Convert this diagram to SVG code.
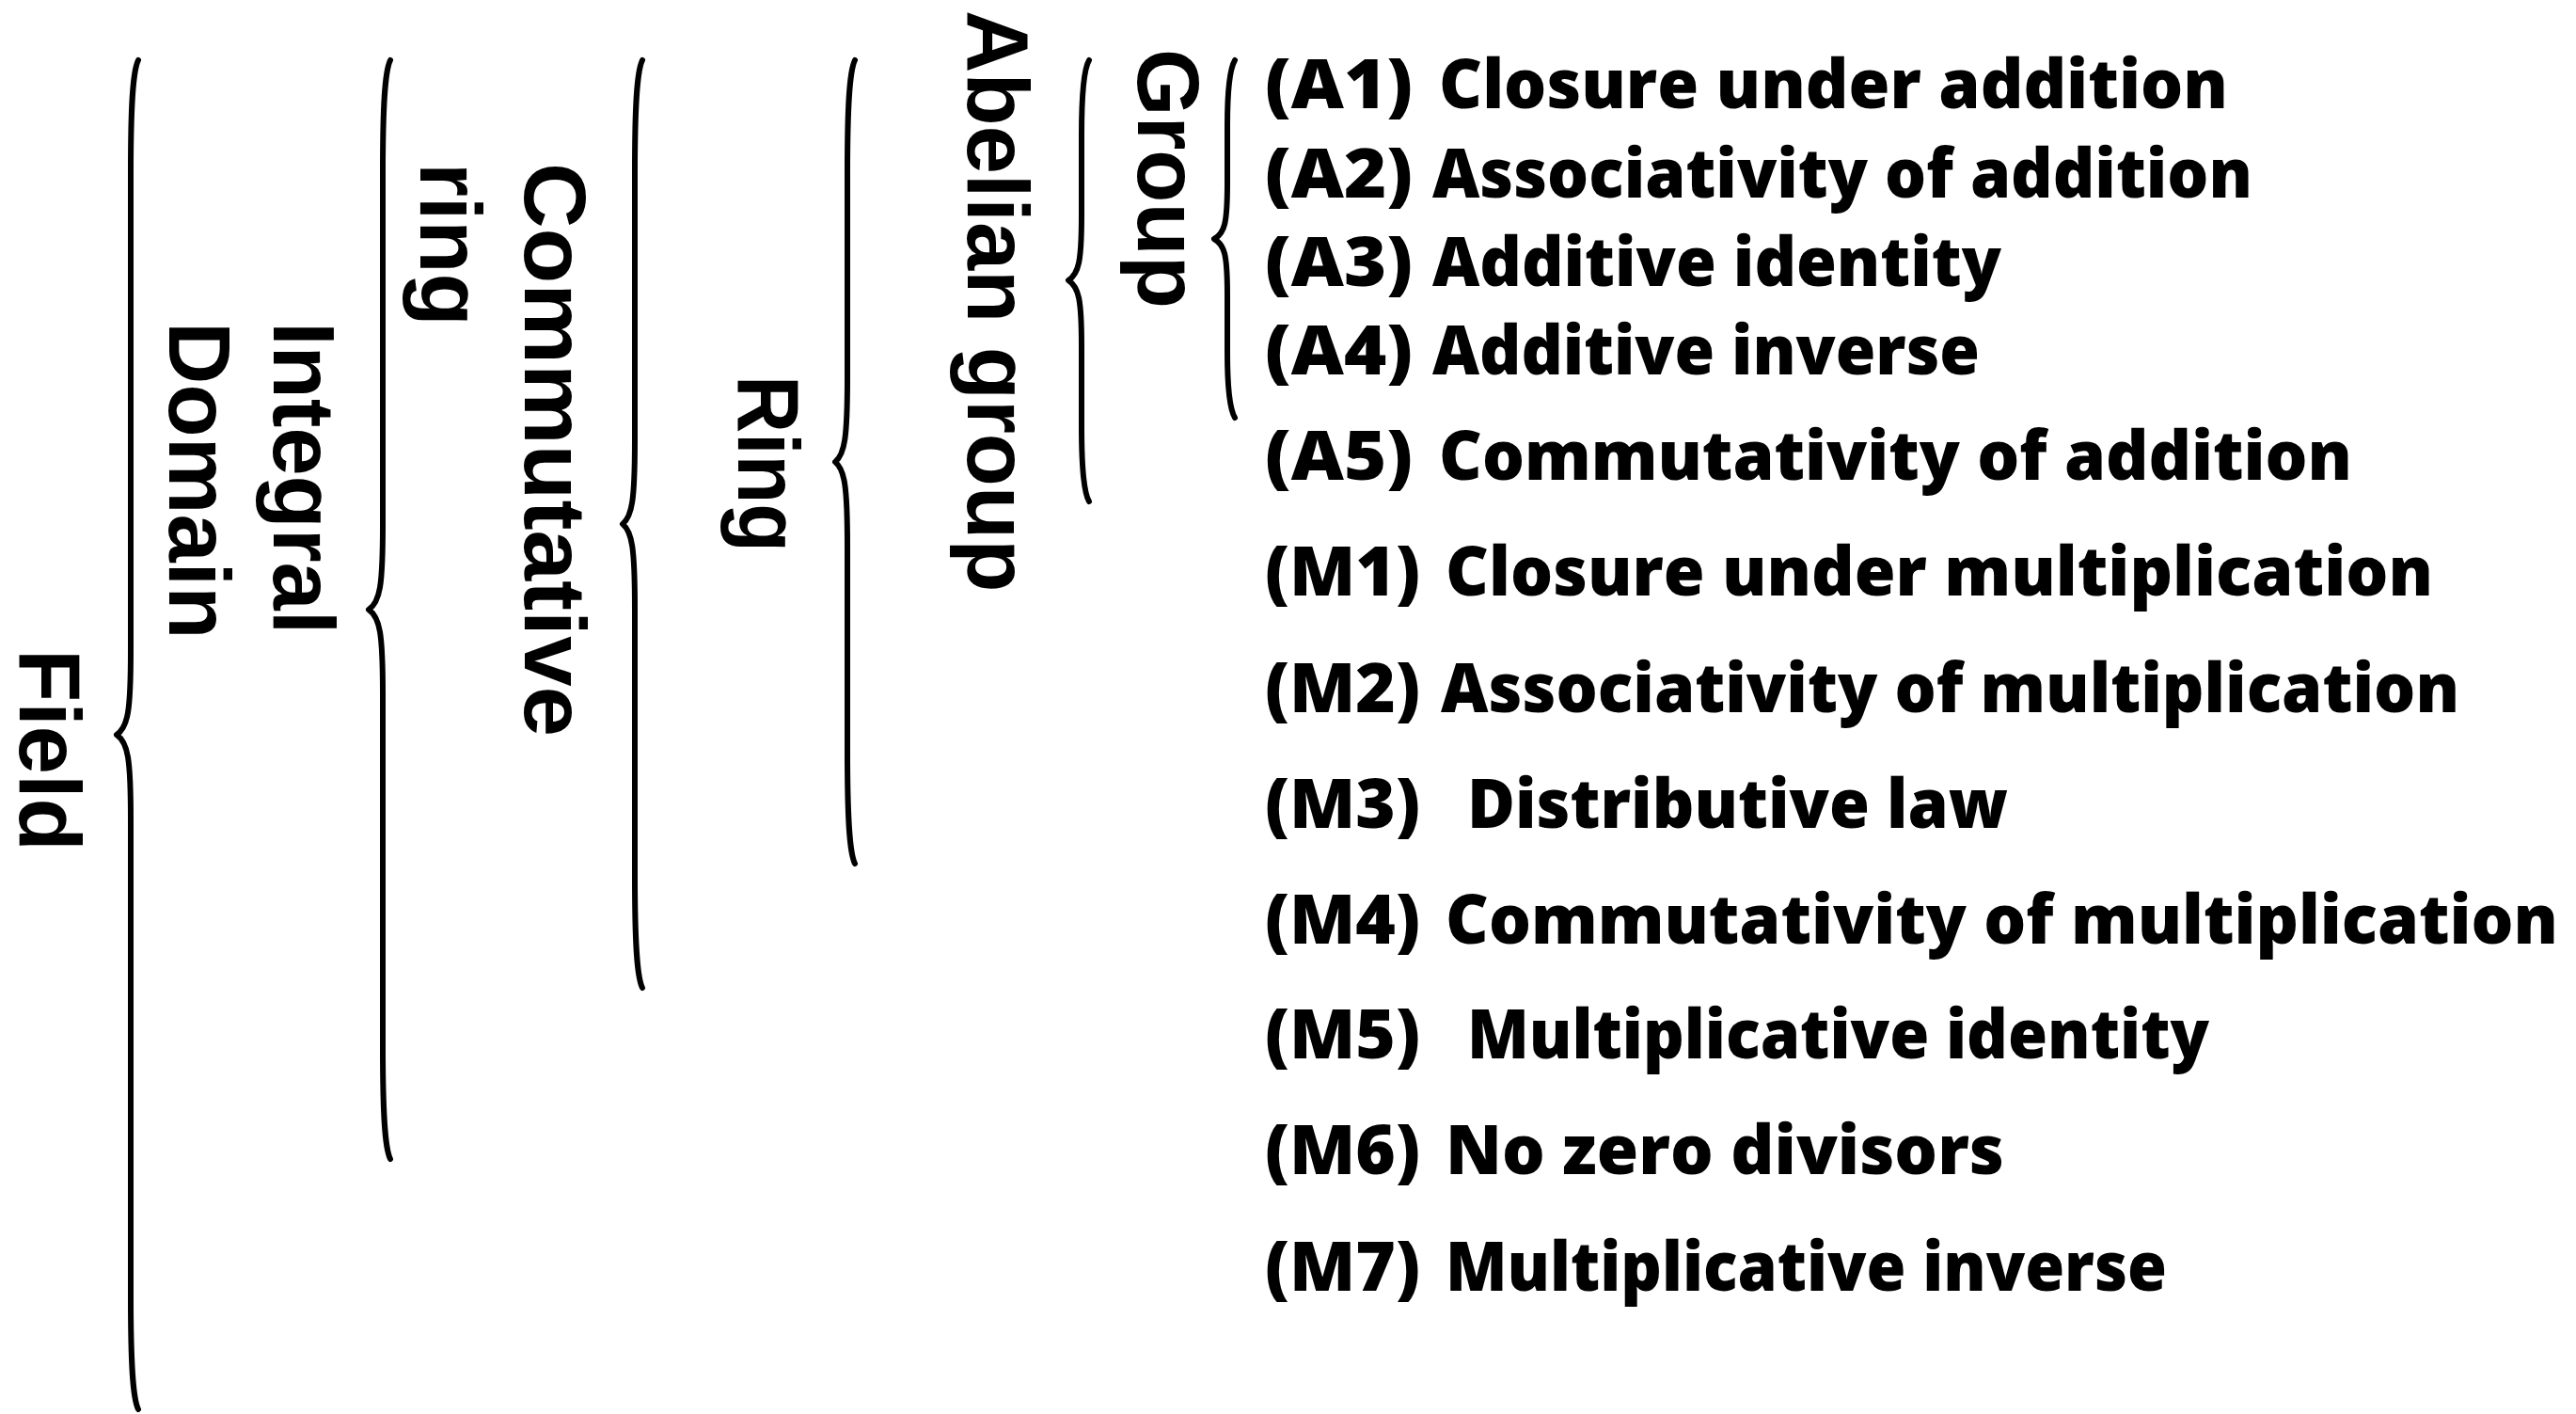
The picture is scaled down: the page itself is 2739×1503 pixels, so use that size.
<svg xmlns="http://www.w3.org/2000/svg" width="2739" height="1503" viewBox="0 0 2739 1503">
<style>
.brace{fill:none;stroke:#000;stroke-width:6;stroke-linecap:round;stroke-linejoin:round}
.lbl{font-family:"Liberation Sans",Arial,sans-serif;font-weight:bold;font-size:92px;fill:#000}
.ax{font-family:"Open Sans","Liberation Sans",sans-serif;font-weight:800;font-size:72px;fill:#000;white-space:pre}
</style>
<rect width="2739" height="1503" fill="#fff"/>
<g id="connectors">
<path class="brace" d="M147,64 C141,76 139,114 139,184 L139,691 C139,756 136,773 124,781 C136,789 139,806 139,871 L139,1378 C139,1448 141,1486 147,1498"/>
<path class="brace" d="M415,64 C409,76 407,114 407,184 L407,558 C407,623 404,640 392,648 C404,656 407,673 407,738 L407,1112 C407,1182 409,1220 415,1232"/>
<path class="brace" d="M683,64 C677,76 675,114 675,184 L675,467 C675,532 672,549 662,557 C672,565 675,582 675,647 L675,930 C675,1000 677,1038 683,1050"/>
<path class="brace" d="M909,64 C903,76 901,114 901,184 L901,401 C901,466 898,483 888,491 C898,499 901,516 901,581 L901,798 C901,868 903,906 909,918"/>
<path class="brace" d="M1158,64 C1152,74 1150,100 1150,144 L1150,228 C1150,278 1147,291 1136,298 C1147,305 1150,318 1150,368 L1150,453 C1150,497 1152,523 1158,533"/>
<path class="brace" d="M1313,64 C1307,74 1305,98 1305,134 L1305,194 C1305,238 1302,248 1291,254 C1302,260 1305,270 1305,314 L1305,374 C1305,410 1307,434 1313,444"/>
</g>
<g id="field"><text class="lbl" transform="translate(21,690) rotate(90)">Field</text></g>
<g id="integral-domain">
<text class="lbl" transform="translate(291,342) rotate(90)">Integral</text>
<text class="lbl" transform="translate(180,342) rotate(90)">Domain</text>
</g>
<g id="commutative-ring">
<text class="lbl" transform="translate(558,173) rotate(90)" textLength="610" lengthAdjust="spacingAndGlyphs">Commutative</text>
<text class="lbl" transform="translate(447,173) rotate(90)">ring</text>
</g>
<g id="ring"><text class="lbl" transform="translate(785,399) rotate(90)" textLength="188" lengthAdjust="spacingAndGlyphs">Ring</text></g>
<g id="abelian-group"><text class="lbl" transform="translate(1029,11) rotate(90)">Abelian group</text></g>
<g id="group"><text class="lbl" transform="translate(1210,52) rotate(90)">Group</text></g>
<g id="A1"><text class="ax" x="1345" y="115" textLength="157" lengthAdjust="spacingAndGlyphs">(A1)</text><text class="ax" x="1530" y="115" textLength="839" lengthAdjust="spacingAndGlyphs">Closure under addition</text></g>
<g id="A2"><text class="ax" x="1345" y="210" textLength="157" lengthAdjust="spacingAndGlyphs">(A2)</text><text class="ax" x="1523" y="210" textLength="872" lengthAdjust="spacingAndGlyphs">Associativity of addition</text></g>
<g id="A3"><text class="ax" x="1345" y="304" textLength="157" lengthAdjust="spacingAndGlyphs">(A3)</text><text class="ax" x="1523" y="304" textLength="605" lengthAdjust="spacingAndGlyphs">Additive identity</text></g>
<g id="A4"><text class="ax" x="1345" y="398" textLength="157" lengthAdjust="spacingAndGlyphs">(A4)</text><text class="ax" x="1523" y="398" textLength="582" lengthAdjust="spacingAndGlyphs">Additive inverse</text></g>
<g id="A5"><text class="ax" x="1345" y="510" textLength="157" lengthAdjust="spacingAndGlyphs">(A5)</text><text class="ax" x="1530" y="510" textLength="971" lengthAdjust="spacingAndGlyphs">Commutativity of addition</text></g>
<g id="M1"><text class="ax" x="1345" y="633" textLength="165" lengthAdjust="spacingAndGlyphs">(M1)</text><text class="ax" x="1537" y="633" textLength="1050" lengthAdjust="spacingAndGlyphs">Closure under multiplication</text></g>
<g id="M2"><text class="ax" x="1345" y="757" textLength="165" lengthAdjust="spacingAndGlyphs">(M2)</text><text class="ax" x="1532" y="757" textLength="1083" lengthAdjust="spacingAndGlyphs">Associativity of multiplication</text></g>
<g id="M3"><text class="ax" x="1345" y="880" textLength="165" lengthAdjust="spacingAndGlyphs">(M3)</text><text class="ax" x="1560" y="880" textLength="575" lengthAdjust="spacingAndGlyphs">Distributive law</text></g>
<g id="M4"><text class="ax" x="1345" y="1003" textLength="165" lengthAdjust="spacingAndGlyphs">(M4)</text><text class="ax" x="1537" y="1003" textLength="1183" lengthAdjust="spacingAndGlyphs">Commutativity of multiplication</text></g>
<g id="M5"><text class="ax" x="1345" y="1125" textLength="165" lengthAdjust="spacingAndGlyphs">(M5)</text><text class="ax" x="1560" y="1125" textLength="789" lengthAdjust="spacingAndGlyphs">Multiplicative identity</text></g>
<g id="M6"><text class="ax" x="1345" y="1248" textLength="165" lengthAdjust="spacingAndGlyphs">(M6)</text><text class="ax" x="1537" y="1248" textLength="594" lengthAdjust="spacingAndGlyphs">No zero divisors</text></g>
<g id="M7"><text class="ax" x="1345" y="1372" textLength="165" lengthAdjust="spacingAndGlyphs">(M7)</text><text class="ax" x="1537" y="1372" textLength="767" lengthAdjust="spacingAndGlyphs">Multiplicative inverse</text></g>
</svg>
